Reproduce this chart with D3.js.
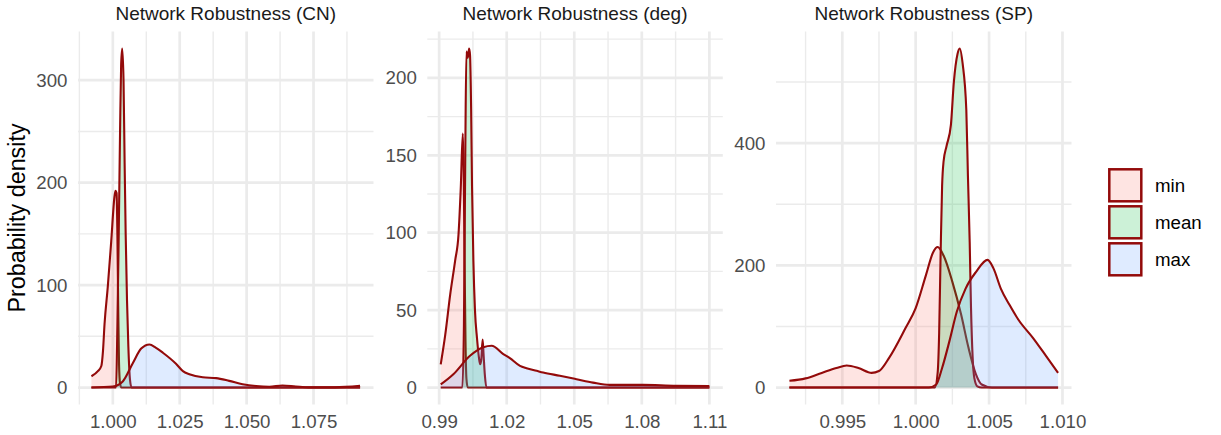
<!DOCTYPE html>
<html>
<head>
<meta charset="utf-8">
<script src="https://cdn.jsdelivr.net/npm/d3@7"></script>
<style>
	body { margin: 0; background: #fff; }
	svg text { font-family: "Liberation Sans", Arial, Helvetica, sans-serif; }
</style>
</head>
<body>
<svg id="chart" width="1221" height="435"></svg>
<script>

var groups = ['min', 'mean', 'max'];
var groupFills = ['#F8766D', '#00BA38', '#619CFF'];

var panelTitles = ['Network Robustness (CN)', 'Network Robustness (deg)', 'Network Robustness (SP)'];

// density curves: [value, density]
var cnMin = [[0.9920, 11], [0.9944, 16], [0.9957, 21], [0.9963, 35], [0.9969, 62], [0.9981, 98], [0.9994, 143],
	[1.0006, 186], [1.0010, 192], [1.0014, 190], [1.0017, 150], [1.0020, 80], [1.0023, 25], [1.0027, 4],
	[1.0032, 0], [1.0924, 0]];
var cnMean = [[0.9920, 0], [1.0012, 0], [1.0017, 60], [1.0022, 150], [1.0027, 250], [1.0031, 315], [1.0035, 331],
	[1.0040, 300], [1.0044, 220], [1.0048, 150], [1.0053, 85], [1.0058, 40], [1.0064, 8], [1.0070, 0], [1.0924, 0]];
var cnMax = [[0.9920, 0], [1.0000, 1], [1.0037, 6], [1.0075, 24], [1.0106, 38], [1.0137, 42], [1.0160, 39],
	[1.0187, 34], [1.0237, 23], [1.0262, 16], [1.0286, 13], [1.0336, 10], [1.0386, 9.2], [1.0435, 6.5],
	[1.0485, 3.3], [1.0535, 1.5], [1.0585, 0.8], [1.0634, 2], [1.0684, 1], [1.0734, 0.2], [1.0830, 0.2], [1.0924, 1.6]];

var degMin = [[0.9907, 15], [0.9927, 34], [0.9949, 60], [0.9971, 82], [0.9986, 99], [0.9996, 129], [1.0005, 164],
	[1.0009, 140], [1.0013, 80], [1.0017, 30], [1.0021, 6], [1.0027, 0], [1.1100, 0]];
var degMean = [[0.9907, 0], [1.0003, 0], [1.0010, 40], [1.0016, 150], [1.0021, 217], [1.0027, 213], [1.0033, 219],
	[1.0037, 215], [1.0042, 180], [1.0046, 130], [1.0052, 82], [1.0059, 50], [1.0068, 32], [1.0077, 19],
	[1.0082, 15], [1.0087, 18], [1.0093, 31], [1.0097, 22], [1.0103, 8], [1.0110, 0], [1.1100, 0]];
var degMax = [[0.9907, 2], [0.9963, 8.6], [1.0037, 20.5], [1.0096, 26], [1.0133, 27], [1.0185, 21.6], [1.0214, 19],
	[1.0259, 14], [1.0288, 12.5], [1.0333, 10.8], [1.0362, 9.7], [1.0436, 7.6], [1.0510, 5.4], [1.0583, 3.2],
	[1.0657, 1.7], [1.0805, 1.7], [1.0953, 1.1], [1.1100, 1]];

var spMin = [[0.9914, 11], [0.9925, 15], [0.9936, 24], [0.9946, 32], [0.9953, 36], [0.9961, 32], [0.9970, 24],
	[0.9975, 27], [0.9982, 49], [0.9993, 97], [1.0000, 130], [1.0007, 184], [1.0012, 222], [1.0015, 230],
	[1.0019, 216], [1.0025, 173], [1.0031, 119], [1.0036, 65], [1.0041, 22], [1.0045, 5], [1.0052, 0], [1.0097, 0]];
var spMean = [[0.9914, 0], [1.0013, 0], [1.0015, 25], [1.0016, 90], [1.0017, 220], [1.0018, 330], [1.0019, 370],
	[1.0021, 395], [1.0024, 430], [1.0026, 500], [1.00285, 546], [1.0030, 555], [1.0032, 530], [1.00345, 454],
	[1.00356, 346], [1.00368, 238], [1.00377, 130], [1.00388, 50], [1.0040, 15], [1.0042, 2], [1.0045, 0], [1.0097, 0]];
var spMax = [[0.9914, 0], [1.0009, 0], [1.0014, 5], [1.0018, 32], [1.0023, 76], [1.0028, 124], [1.0034, 162],
	[1.0041, 189], [1.0049, 209], [1.0053, 195], [1.0058, 162], [1.0064, 135], [1.0070, 111], [1.0080, 81],
	[1.0089, 51], [1.0097, 24]];

// axis breaks
var cnXTicks = [1.000, 1.025, 1.050, 1.075];
var cnXMinor = [0.9875, 1.0125, 1.0375, 1.0625, 1.0875];
var cnYTicks = [0, 100, 200, 300];
var cnYMinor = [50, 150, 250];

var degXTicks = [0.99, 1.02, 1.05, 1.08, 1.11];
var degXMinor = [1.005, 1.035, 1.065, 1.095];
var degYTicks = [0, 50, 100, 150, 200];
var degYMinor = [25, 75, 125, 175, 225];

var spXTicks = [0.995, 1.000, 1.005, 1.010];
var spXMinor = [0.9925, 0.9975, 1.0025, 1.0075];
var spYTicks = [0, 200, 400];
var spYMinor = [100, 300, 500];

var panels = [
	{ title: panelTitles[0], series: [cnMin, cnMean, cnMax], xTicks: cnXTicks, xMinor: cnXMinor, yTicks: cnYTicks, yMinor: cnYMinor, fmt: '.3f' },
	{ title: panelTitles[1], series: [degMin, degMean, degMax], xTicks: degXTicks, xMinor: degXMinor, yTicks: degYTicks, yMinor: degYMinor, fmt: '.2f' },
	{ title: panelTitles[2], series: [spMin, spMean, spMax], xTicks: spXTicks, xMinor: spXMinor, yTicks: spYTicks, yMinor: spYMinor, fmt: '.3f' }
];

var lineColor = '#930a0a';
var gridColor = '#ebebeb';
var panelLeft = [78, 427.3, 776];
var panelTop = 31.5;
var panelW = 295.5;
var panelH = 373;
var fontSize = 18.7;

var svg = d3.select('#chart');

panels.forEach(function(p, i) {
	var all = d3.merge(p.series);
	var xExt = d3.extent(all, function(d) { return d[0]; });
	var xPad = (xExt[1] - xExt[0]) * 0.05;
	var yMax = d3.max(all, function(d) { return d[1]; });

	var x = d3.scaleLinear().domain([xExt[0] - xPad, xExt[1] + xPad]).range([0, panelW]);
	var y = d3.scaleLinear().domain([-yMax * 0.05, yMax * 1.05]).range([panelH, 0]);

	var g = svg.append('g').attr('transform', 'translate(' + panelLeft[i] + ',' + panelTop + ')');

	// grid
	g.selectAll('.ymin').data(p.yMinor).enter().append('line')
		.attr('x1', 0).attr('x2', panelW)
		.attr('y1', function(d) { return y(d); }).attr('y2', function(d) { return y(d); })
		.attr('stroke', gridColor).attr('stroke-width', 1.4);
	g.selectAll('.xmin').data(p.xMinor).enter().append('line')
		.attr('y1', 0).attr('y2', panelH)
		.attr('x1', function(d) { return x(d); }).attr('x2', function(d) { return x(d); })
		.attr('stroke', gridColor).attr('stroke-width', 1.4);
	g.selectAll('.ymaj').data(p.yTicks).enter().append('line')
		.attr('x1', 0).attr('x2', panelW)
		.attr('y1', function(d) { return y(d); }).attr('y2', function(d) { return y(d); })
		.attr('stroke', gridColor).attr('stroke-width', 2.7);
	g.selectAll('.xmaj').data(p.xTicks).enter().append('line')
		.attr('y1', 0).attr('y2', panelH)
		.attr('x1', function(d) { return x(d); }).attr('x2', function(d) { return x(d); })
		.attr('stroke', gridColor).attr('stroke-width', 2.7);

	var area = d3.area()
		.x(function(d) { return x(d[0]); })
		.y0(y(0))
		.y1(function(d) { return y(d[1]); })
		.curve(d3.curveMonotoneX);
	var line = d3.line()
		.x(function(d) { return x(d[0]); })
		.y(function(d) { return y(d[1]); })
		.curve(d3.curveMonotoneX);

	p.series.forEach(function(s, k) {
		g.append('path').datum(s)
			.attr('d', area)
			.attr('fill', groupFills[k])
			.attr('fill-opacity', 0.2);
		g.append('path').datum(s)
			.attr('d', line)
			.attr('fill', 'none')
			.attr('stroke', lineColor)
			.attr('stroke-width', 2.1)
			.attr('stroke-linejoin', 'round');
	});

	// axes (labels only, like theme_minimal)
	var xAxis = g.append('g').attr('transform', 'translate(0,' + panelH + ')')
		.call(d3.axisBottom(x).tickValues(p.xTicks).tickFormat(d3.format(p.fmt)).tickSize(0).tickPadding(10.5));
	var yAxis = g.append('g')
		.call(d3.axisLeft(y).tickValues(p.yTicks).tickFormat(d3.format('d')).tickSize(0).tickPadding(10.5));
	[xAxis, yAxis].forEach(function(a) {
		a.select('.domain').remove();
		a.attr('font-family', null).attr('font-size', null);
		a.selectAll('text').style('font-size', fontSize + 'px').attr('fill', '#4d4d4d');
	});

	g.append('text')
		.attr('x', panelW / 2)
		.attr('y', 20 - panelTop)
		.attr('text-anchor', 'middle')
		.style('font-size', '19px')
		.attr('fill', '#1a1a1a')
		.text(p.title);
});

svg.append('text')
	.attr('transform', 'translate(25,' + (panelTop + panelH / 2) + ') rotate(-90)')
	.attr('text-anchor', 'middle')
	.style('font-size', '23.3px')
	.attr('fill', '#000')
	.text('Probability density');

// legend
var legend = svg.append('g').attr('transform', 'translate(1108,168)');
groups.forEach(function(name, k) {
	legend.append('rect')
		.attr('x', 1.3).attr('y', k * 37 + 1.3)
		.attr('width', 32).attr('height', 32)
		.attr('fill', groupFills[k]).attr('fill-opacity', 0.2)
		.attr('stroke', lineColor).attr('stroke-width', 2.5);
	legend.append('text')
		.attr('x', 47).attr('y', k * 37 + 17.3)
		.attr('dy', '0.36em')
		.style('font-size', fontSize + 'px')
		.attr('fill', '#000')
		.text(name);
});

</script>
</body>
</html>
